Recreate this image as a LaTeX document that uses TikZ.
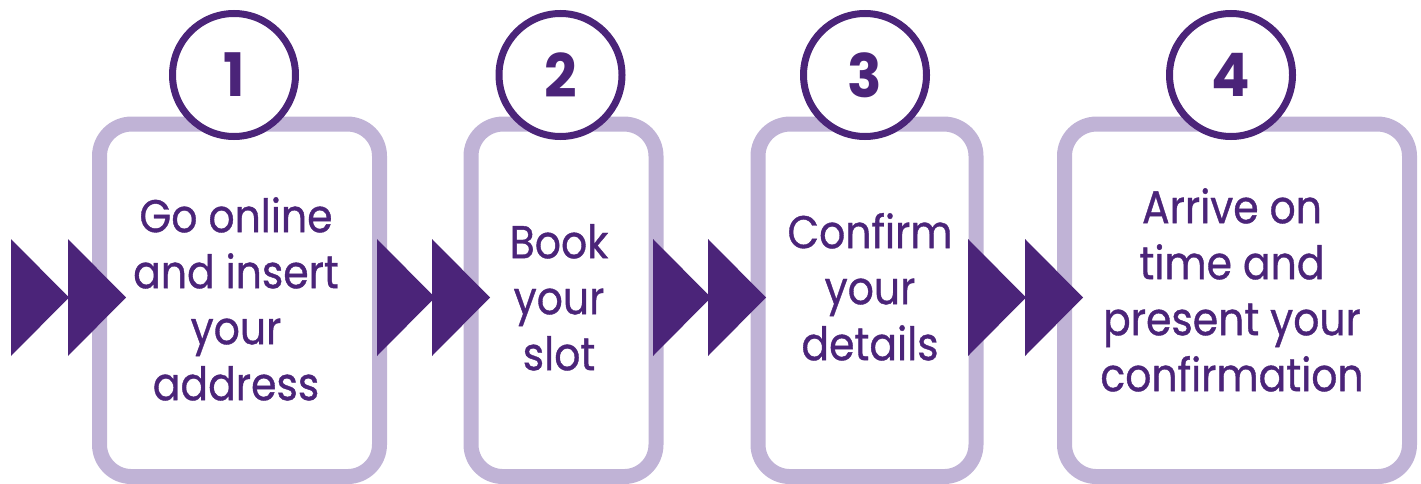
\documentclass[tikz,border=0pt]{standalone}
\usepackage{fontspec}
\setmainfont{Poppins}[FakeStretch=0.89, FakeBold=0.8]
\newfontfamily\numfont{Poppins}[FakeStretch=0.95]
\definecolor{deep}{RGB}{75,36,121}
\definecolor{lav}{RGB}{192,179,214}
\newcommand{\firststrut}{\rule{0pt}{40pt}}
\tikzset{
  stepbox/.style={draw=lav, line width=15pt, rounded corners=32pt, fill=white, inner sep=0pt},
  numcirc/.style={circle, draw=deep, line width=7pt, fill=white, minimum size=123pt, inner sep=0pt,
    text=deep, font=\numfont\fontsize{60}{60}\selectfont\bfseries},
  steptext/.style={anchor=north, inner sep=0pt, align=center, text=deep,
    font=\fontsize{46}{56}\selectfont},
  chev/.style={fill=deep, draw=none}
}
\begin{document}
\begin{tikzpicture}[x=1pt, y=-1pt]
\useasboundingbox (0,0) rectangle (1421,484);
% boxes
\node[stepbox, minimum width=280pt, minimum height=352.5pt] (b1) at (239.5,300.3) {};
\node[stepbox, minimum width=185pt, minimum height=352.5pt] (b2) at (563.5,300.3) {};
\node[stepbox, minimum width=218pt, minimum height=352.5pt] (b3) at (867,300.3) {};
\node[stepbox, minimum width=345pt, minimum height=352.5pt] (b4) at (1237,300.3) {};
% circles
\node[numcirc] (c1) at (234,75) {1};
\node[numcirc] (c2) at (560.5,75) {2};
\node[numcirc] (c3) at (865,75) {3};
\node[numcirc] (c4) at (1231,75) {4};
% texts
\node[steptext] (t1) at (236,192) {\firststrut Go online\\and insert\\your\\address};
\node[steptext] (t2) at (559,218) {\firststrut Book\\your\\slot};
\node[steptext] (t3) at (870,208) {\firststrut Confirm\\your\\details};
\node[steptext] (t4) at (1232,183) {\firststrut Arrive on\\time and\\present your\\confirmation};
% chevrons
\foreach \x in {11,68,377,432,653,708,968,1025}{
  \fill[chev] (\x,239) -- (\x+58,297.5) -- (\x,356) -- cycle;
}
\end{tikzpicture}
\end{document}
